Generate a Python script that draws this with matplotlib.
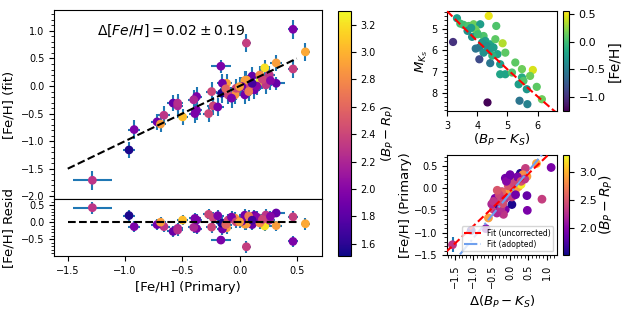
import numpy as np
import matplotlib
matplotlib.use("Agg")
import matplotlib.pyplot as plt
from matplotlib.ticker import AutoMinorLocator, MultipleLocator

# ---------------- main panel data ----------------
feh_primary = [0.467, 0.575, 0.06, 0.467, -0.163, 0.32, 0.22, 0.177, 0.11, 0.32,
               0.26, 0.046, -0.113, -0.15, -0.244, -0.23, -0.27, -0.375, -0.40, -0.375,
               -0.39, -0.58, -0.54, -0.54, -0.497, -0.66, -0.72, -0.69, -0.92, -0.965,
               -1.285, 0.23, 0.13, 0.046, 0.09, 0.06, 0.177, -0.03, 0.02, -0.04,
               -0.157, -0.10, -0.07, -0.03, 0.00, -0.19, 0.15, 0.20, 0.08, -0.12,
               0.11, 0.27]
feh_fit = [1.03, 0.62, 0.78, 0.31, 0.36, 0.42, 0.33, 0.08, 0.18, 0.05,
           0.20, 0.10, 0.05, 0.05, -0.10, -0.36, -0.50, -0.19, -0.25, -0.44,
           -0.50, -0.31, -0.36, -0.31, -0.56, -0.53, -0.65, -0.69, -0.79, -1.16,
           -1.71, 0.02, -0.07, -0.16, 0.00, 0.11, 0.20, -0.08, -0.01, -0.16,
           -0.13, -0.16, -0.22, -0.04, -0.01, -0.38, 0.00, 0.12, -0.10, -0.05,
           0.05, 0.10]
bprp = [1.95, 2.95, 2.35, 2.35, 1.95, 2.90, 3.20, 3.25, 1.85, 1.85,
        2.30, 2.90, 2.90, 1.90, 2.40, 2.40, 2.40, 1.95, 2.20, 1.95,
        1.95, 1.85, 2.20, 2.25, 3.05, 2.30, 1.90, 2.90, 1.95, 1.55,
        2.30, 2.30, 1.90, 1.90, 2.40, 2.90, 2.80, 2.40, 1.90, 2.85,
        1.55, 2.40, 1.95, 2.40, 2.90, 1.95, 2.00, 2.40, 2.70, 2.60,
        1.70, 2.00]
xerr = [0.04, 0.04, 0.04, 0.04, 0.09, 0.05, 0.05, 0.05, 0.05, 0.08,
        0.05, 0.05, 0.05, 0.05, 0.05, 0.05, 0.05, 0.05, 0.05, 0.05,
        0.05, 0.05, 0.05, 0.05, 0.05, 0.05, 0.05, 0.05, 0.05, 0.05,
        0.17, 0.05, 0.05, 0.05, 0.05, 0.05, 0.05, 0.05, 0.05, 0.05,
        0.05, 0.05, 0.05, 0.05, 0.05, 0.05, 0.05, 0.05, 0.05, 0.05,
        0.05, 0.05]
yerr = [0.17, 0.17, 0.17, 0.17, 0.12, 0.15, 0.15, 0.15, 0.17, 0.12,
        0.17, 0.17, 0.17, 0.17, 0.17, 0.17, 0.15, 0.17, 0.17, 0.17,
        0.17, 0.15, 0.17, 0.17, 0.15, 0.17, 0.15, 0.15, 0.17, 0.15,
        0.17, 0.17, 0.17, 0.17, 0.17, 0.17, 0.17, 0.17, 0.17, 0.17,
        0.17, 0.17, 0.17, 0.17, 0.17, 0.17, 0.17, 0.17, 0.17, 0.17,
        0.17, 0.17]
one_to_one = [-1.5, 0.5]
annotation = r"$\Delta [Fe/H] = 0.02 \pm 0.19$"

# ---------------- top-right (CMD) data ----------------
bp_ks = [3.33, 4.38, 3.20, 3.55, 3.72, 3.88, 4.10, 4.63, 3.68, 3.99,
         3.83, 4.21, 4.27, 4.07, 3.95, 4.43, 4.60, 4.84, 4.21, 4.41,
         4.07, 4.43, 4.67, 4.93, 4.76, 5.26, 4.76, 4.93, 5.15, 5.48,
         5.84, 5.75, 5.48, 5.37, 5.97, 5.64, 6.14, 4.34, 5.40, 5.66,
         5.53, 4.16, 4.32, 4.54, 3.94, 3.44, 4.02, 4.50, 3.80]
m_ks = [4.50, 4.39, 5.61, 4.81, 4.86, 4.78, 4.78, 4.86, 5.09, 5.17,
        5.37, 5.33, 5.56, 5.87, 5.92, 5.72, 5.48, 5.67, 6.11, 6.00,
        6.42, 6.60, 6.18, 6.11, 6.65, 6.57, 7.12, 7.12, 7.04, 6.88,
        6.92, 7.20, 7.27, 7.59, 7.71, 7.82, 8.29, 8.44, 8.36, 8.52,
        7.43, 5.64, 5.79, 5.87, 5.02, 4.75, 5.25, 6.25, 4.95]
feh_cmd = [-0.25, 0.50, -1.00, 0.00, 0.05, 0.15, -0.25, 0.05, -0.35, 0.10,
           -0.35, 0.05, -0.25, -0.50, -0.55, -0.20, 0.10, 0.35, -0.35, -0.30,
           -0.85, -0.55, -0.20, 0.10, -0.25, 0.10, -0.20, -0.20, 0.05, 0.15,
           0.45, 0.15, -0.15, -0.25, 0.10, -0.30, 0.15, -1.25, -0.55, -0.45,
           0.05, -0.30, -0.35, -0.25, 0.15, 0.00, 0.00, -0.10, -0.25]
cmd_fit_coef = [-0.031, 1.6125, -0.396]   # quadratic M_Ks(BP-Ks)

# ---------------- bottom-right data ----------------
delta_bpks = [-1.57, -1.06, -0.66, -0.59, -0.45, -0.32, -0.41, -0.13, -0.18, -0.27,
              -0.09, -0.22, 0.01, -0.04, -0.04, -0.13, 0.09, 0.19, 0.28, 0.46,
              0.42, 0.72, 1.12, 0.87, 0.47, 0.46, 0.14, 0.23, 0.05, -0.36,
              -0.50, 0.30, -0.20, 0.00, 0.35,
              -0.30, -0.15, -0.05, 0.10, 0.20, -0.25, 0.05, -0.35, 0.15, 0.30,
              -0.10, 0.00, -0.45, -0.20, 0.40]
feh_br = [-1.27, -0.95, -0.91, -0.67, -0.48, -0.37, -0.23, -0.48, -0.59, -0.30,
          -0.12, -0.08, 0.00, -0.18, 0.11, 0.22, 0.22, 0.18, 0.33, 0.26,
          0.44, 0.55, 0.46, -0.25, -0.50, -0.17, -0.08, 0.03, -0.37, -0.56,
          -0.36, 0.08, -0.10, -0.05, 0.30,
          -0.15, -0.25, 0.05, 0.10, 0.25, -0.45, -0.20, -0.05, -0.15, 0.15,
          0.15, 0.30, -0.30, -0.35, 0.20]
bprp_br = [2.30, 1.55, 1.95, 2.90, 2.40, 1.55, 1.95, 1.95, 2.30, 2.40,
           2.40, 2.40, 2.40, 2.40, 1.90, 1.90, 1.85, 3.20, 1.55, 2.90,
           2.35, 2.95, 1.95, 2.35, 1.95, 1.85, 2.90, 2.90, 1.55, 2.20,
           2.20, 3.25, 2.60, 2.90, 2.80,
           2.40, 2.30, 2.50, 2.40, 1.95, 2.25, 2.35, 2.50, 1.90, 2.45,
           2.00, 1.90, 2.30, 2.45, 2.30]
yerr_br = [0.17] + [0.0] * 49
fit_uncorrected = [0.78, -0.07]   # slope, intercept
fit_adopted = [1.00, -0.12]

# ---------------- figure ----------------
W, H = 623, 312
fig = plt.figure(figsize=(W / 100, H / 100), dpi=100)

def rect(x0, y0, x1, y1):
    return [x0 / W, 1 - y1 / H, (x1 - x0) / W, (y1 - y0) / H]

ax1 = fig.add_axes(rect(54, 10, 322, 199))
ax2 = fig.add_axes(rect(54, 199, 322, 256), sharex=ax1)
cax1 = fig.add_axes(rect(338, 11, 351, 256))
ax3 = fig.add_axes(rect(447, 11, 557, 111))
cax3 = fig.add_axes(rect(563, 11, 569, 111))
ax4 = fig.add_axes(rect(447, 155, 557, 255))
cax4 = fig.add_axes(rect(563, 155, 569, 255))

vmin_c, vmax_c = 1.51, 3.30
tick_fs = 7
lab_fs = 9.5

# main upper
fp = np.array(feh_primary)
ff = np.array(feh_fit)
ax1.errorbar(fp, ff, xerr=xerr, yerr=yerr, fmt='none', ecolor='C0', elinewidth=1.5, zorder=1)
sc = ax1.scatter(fp, ff, c=bprp, cmap='plasma', vmin=vmin_c, vmax=vmax_c, s=28, zorder=3)
ax1.plot(one_to_one, one_to_one, 'k--', lw=1.5, zorder=4)
ax1.text(-0.6, 1.0, annotation, fontsize=10, ha='center', va='center')
ax1.set_xlim(-1.62, 0.72)
ax1.set_ylim(-2.05, 1.38)
ax1.yaxis.set_major_locator(MultipleLocator(0.5))
ax1.yaxis.set_minor_locator(AutoMinorLocator(5))
ax1.set_ylabel('[Fe/H] (fit)', fontsize=lab_fs)
ax1.tick_params(labelsize=tick_fs, labelbottom=False)
ax1.tick_params(axis='x', length=0)

# residual
resid = fp - ff
ax2.errorbar(fp, resid, xerr=xerr, yerr=yerr, fmt='none', ecolor='C0', elinewidth=1.5, zorder=1)
ax2.scatter(fp, resid, c=bprp, cmap='plasma', vmin=vmin_c, vmax=vmax_c, s=28, zorder=3)
ax2.plot(one_to_one, [0, 0], 'k--', lw=1.5, zorder=4)
ax2.set_ylim(-0.99, 0.68)
ax2.yaxis.set_major_locator(MultipleLocator(0.5))
ax2.yaxis.set_minor_locator(AutoMinorLocator(5))
ax2.xaxis.set_major_locator(MultipleLocator(0.5))
ax2.set_xlabel('[Fe/H] (Primary)', fontsize=lab_fs)
ax2.set_ylabel('[Fe/H] Resid', fontsize=lab_fs)
ax2.tick_params(labelsize=tick_fs)

cb1 = fig.colorbar(sc, cax=cax1)
cb1.set_ticks(np.arange(1.6, 3.21, 0.2))
cb1.ax.tick_params(labelsize=tick_fs)
cb1.set_label(r'$(B_P - R_P)$', fontsize=lab_fs, labelpad=3)

# top-right
sc3 = ax3.scatter(bp_ks, m_ks, c=feh_cmd, cmap='viridis', vmin=-1.26, vmax=0.56, s=24, zorder=2)
xx = np.linspace(3.0, 6.65, 100)
ax3.plot(xx, np.polyval(cmd_fit_coef, xx), 'r--', lw=1.5, zorder=3)
ax3.set_xlim(3.0, 6.64)
ax3.set_ylim(8.84, 4.16)
ax3.xaxis.set_major_locator(MultipleLocator(1))
ax3.yaxis.set_major_locator(MultipleLocator(1))
ax3.yaxis.set_minor_locator(AutoMinorLocator(5))
ax3.tick_params(labelsize=tick_fs)
ax3.set_xlabel(r'$(B_P - K_S)$', fontsize=lab_fs, labelpad=1)
ax3.set_ylabel(r'$M_{K_S}$', fontsize=lab_fs, labelpad=1)
cb3 = fig.colorbar(sc3, cax=cax3)
cb3.set_ticks([-1.0, -0.5, 0.0, 0.5])
cb3.ax.tick_params(labelsize=8)
cb3.set_label('[Fe/H]', fontsize=10, labelpad=1)

# bottom-right
ax4.errorbar(delta_bpks, feh_br, yerr=yerr_br, fmt='none', ecolor='C0', elinewidth=1.5, zorder=1)
sc4 = ax4.scatter(delta_bpks, feh_br, c=bprp_br, cmap='plasma', vmin=vmin_c, vmax=vmax_c, s=28, zorder=2)
xl = np.array([-1.75, 1.3])
ax4.plot(xl, fit_uncorrected[0] * xl + fit_uncorrected[1], 'r--', lw=1.5, label='Fit (uncorrected)', zorder=3)
ax4.plot(xl, fit_adopted[0] * xl + fit_adopted[1], '-.', color='#6fa0ee', lw=1.5, label='Fit (adopted)', zorder=3)
ax4.set_xlim(-1.72, 1.28)
ax4.set_ylim(-1.5, 0.74)
ax4.xaxis.set_major_locator(MultipleLocator(0.5))
ax4.yaxis.set_major_locator(MultipleLocator(0.5))
ax4.xaxis.set_minor_locator(AutoMinorLocator(5))
ax4.yaxis.set_minor_locator(AutoMinorLocator(5))
ax4.tick_params(labelsize=tick_fs)
ax4.tick_params(axis='x', labelrotation=90)
ax4.set_xlabel(r'$\Delta(B_P - K_S)$', fontsize=lab_fs)
ax4.set_ylabel('[Fe/H] (Primary)', fontsize=lab_fs, labelpad=1)
ax4.legend(loc='lower right', fontsize=5.5, handlelength=2.2, borderpad=0.3, labelspacing=0.3)
cb4 = fig.colorbar(sc4, cax=cax4)
cb4.set_ticks([2.0, 2.5, 3.0])
cb4.ax.tick_params(labelsize=8)
cb4.set_label(r'$(B_P - R_P)$', fontsize=10, labelpad=1)

fig.savefig('out.png', dpi=100)
